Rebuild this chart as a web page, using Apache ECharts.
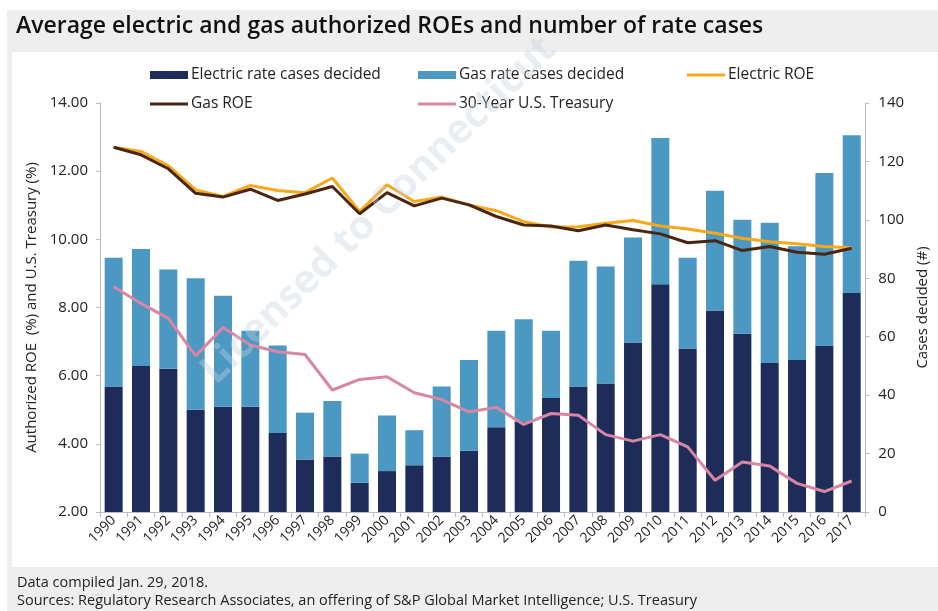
<!DOCTYPE html>
<html>
<head>
<meta charset="utf-8">
<script src="https://cdn.jsdelivr.net/npm/echarts@6/dist/echarts.min.js"></script>
<style>
html,body{margin:0;padding:0;background:#ffffff;}
#chart{width:938px;height:611px;}
</style>
</head>
<body>
<div id="chart"></div>
<script>
// ---- data ----
const years = ['1990','1991','1992','1993','1994','1995','1996','1997','1998','1999','2000','2001','2002','2003','2004','2005','2006','2007','2008','2009','2010','2011','2012','2013','2014','2015','2016','2017'];
const electricCases = [43,50,49,35,36,36,27,18,19,10,14,16,19,21,29,31,39,43,44,58,78,56,69,61,51,52,57,75];
const gasCases      = [44,40,34,45,38,26,30,16,19,10,19,12,24,31,33,35,23,43,40,36,50,31,41,39,48,39,59,54];
const electricROE = [12.70,12.58,12.16,11.45,11.26,11.58,11.43,11.37,11.80,10.82,11.60,11.11,11.24,11.01,10.84,10.52,10.36,10.37,10.47,10.55,10.39,10.30,10.18,10.03,9.93,9.87,9.79,9.75];
const gasROE      = [12.70,12.48,12.07,11.35,11.24,11.47,11.14,11.33,11.55,10.75,11.37,10.98,11.21,11.01,10.67,10.42,10.39,10.25,10.42,10.28,10.16,9.90,9.96,9.67,9.79,9.62,9.56,9.74];
const treasury    = [8.61,8.12,7.68,6.58,7.41,6.90,6.70,6.62,5.58,5.89,5.97,5.50,5.30,4.94,5.07,4.57,4.89,4.84,4.27,4.08,4.27,3.91,2.93,3.47,3.35,2.84,2.60,2.91];

const seriesNames = ['Electric rate cases decided','Gas rate cases decided','Electric ROE','Gas ROE','30-Year U.S. Treasury'];
const colors = {elec:'#1e2c5a', gas:'#4b98c3', eroe:'#f7a81b', groe:'#4a2511', tsy:'#d986a4'};

const FONT = 'Open Sans';
const chart = echarts.init(document.getElementById('chart'), null, {renderer:'canvas'});

function legendItem(name, left, top, isLine){
  return {
    data:[name], left:left, top:top, orient:'horizontal',
    icon:'rect', itemWidth:38, itemHeight:isLine?3:8, itemGap:4,
    textStyle:{fontFamily:FONT, fontSize:15.5, color:'#222', padding:[0,0,0,-2]},
    selectedMode:false
  };
}

const option = {
  animation:false,
  backgroundColor:'#ffffff',
  textStyle:{fontFamily:FONT},
  graphic:[
    {type:'rect', z:-10, silent:true, shape:{x:7,y:10,width:931,height:601}, style:{fill:'#eeeeee'}},
    {type:'rect', z:-9, silent:true, shape:{x:12,y:52,width:926,height:515}, style:{fill:'#ffffff'}},
    {type:'text', z:5, left:16, top:15, style:{text:'Average electric and gas authorized ROEs and number of rate cases', fontFamily:FONT, fontSize:23, fontWeight:600, fill:'#111'}},
    {type:'text', z:5, left:17, top:575, style:{text:'Data compiled Jan. 29, 2018.', fontFamily:FONT, fontSize:14.5, fill:'#222'}},
    {type:'text', z:5, left:17, top:593, style:{text:'Sources: Regulatory Research Associates, an offering of S&P Global Market Intelligence; U.S. Treasury', fontFamily:FONT, fontSize:14.5, fill:'#222'}},
    {type:'text', z:50, silent:true, x:222, y:392, rotation:0.775, style:{text:'Licensed to Connecticut', fontFamily:FONT, fontSize:40, fontWeight:'bold', fill:'#c5d2df', opacity:0.38, textAlign:'left', textVerticalAlign:'bottom'}}
  ],
  legend:[
    legendItem(seriesNames[0],145,62,false),
    legendItem(seriesNames[1],413,62,false),
    legendItem(seriesNames[2],682,62,true),
    legendItem(seriesNames[3],145,91,true),
    legendItem(seriesNames[4],413,91,true)
  ],
  grid:{left:100, right:56, top:103, bottom:99, containLabel:false},
  xAxis:{
    type:'category', data:years, boundaryGap:true,
    axisLine:{lineStyle:{color:'#bdbdbd', width:1}},
    axisTick:{show:true, alignWithLabel:false, length:5, lineStyle:{color:'#bdbdbd'}},
    axisLabel:{rotate:45, interval:0, fontFamily:FONT, fontSize:14, color:'#222', margin:6}
  },
  yAxis:[
    {
      type:'value', min:2, max:14, interval:2, position:'left',
      name:'Authorized ROE  (%) and U.S. Treasury (%)', nameLocation:'middle', nameGap:60, nameRotate:90,
      nameTextStyle:{fontFamily:FONT, fontSize:15, color:'#222'},
      axisLine:{show:true, lineStyle:{color:'#bdbdbd'}},
      axisTick:{show:true, length:4, lineStyle:{color:'#bdbdbd'}},
      axisLabel:{formatter:v=>v.toFixed(2), fontFamily:FONT, fontSize:15, color:'#222', margin:12},
      splitLine:{show:false}
    },
    {
      type:'value', min:0, max:140, interval:20, position:'right',
      name:'Cases decided (#)', nameLocation:'middle', nameGap:46, nameRotate:90,
      nameTextStyle:{fontFamily:FONT, fontSize:15, color:'#222'},
      axisLine:{show:true, lineStyle:{color:'#bdbdbd'}},
      axisTick:{show:true, length:4, lineStyle:{color:'#bdbdbd'}},
      axisLabel:{fontFamily:FONT, fontSize:15, color:'#222', margin:13},
      splitLine:{show:false}
    }
  ],
  series:[
    {name:seriesNames[0], type:'bar', stack:'cases', yAxisIndex:1, data:electricCases, barWidth:18, itemStyle:{color:colors.elec}, z:2},
    {name:seriesNames[1], type:'bar', stack:'cases', yAxisIndex:1, data:gasCases, barWidth:18, itemStyle:{color:colors.gas}, z:2},
    {name:seriesNames[2], type:'line', yAxisIndex:0, data:electricROE, symbol:'none', lineStyle:{color:colors.eroe, width:3}, itemStyle:{color:colors.eroe}, z:3},
    {name:seriesNames[3], type:'line', yAxisIndex:0, data:gasROE, symbol:'none', lineStyle:{color:colors.groe, width:3}, itemStyle:{color:colors.groe}, z:4},
    {name:seriesNames[4], type:'line', yAxisIndex:0, data:treasury, symbol:'none', lineStyle:{color:colors.tsy, width:3}, itemStyle:{color:colors.tsy}, z:3}
  ]
};
chart.setOption(option);
</script>
</body>
</html>
